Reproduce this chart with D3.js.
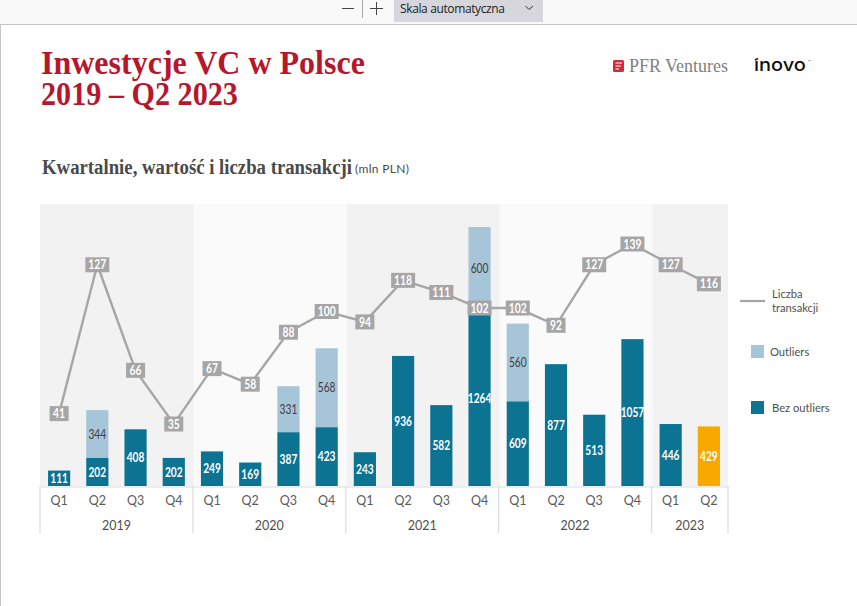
<!DOCTYPE html>
<html><head><meta charset="utf-8">
<script src="https://cdn.jsdelivr.net/npm/d3@7"></script>
<style>
html,body{margin:0;padding:0;background:#fff;overflow:hidden}
svg{display:block}
text{font-family:Lato,"Open Sans",sans-serif}
.serif{font-family:"Liberation Serif",serif}
</style></head><body>
<svg id="c" width="857" height="606"></svg>
<script>
const years = ["2019","2020","2021","2022","2023"];
const yearCounts = [4,4,4,4,2];
const quarters = ["Q1","Q2","Q3","Q4","Q1","Q2","Q3","Q4","Q1","Q2","Q3","Q4","Q1","Q2","Q3","Q4","Q1","Q2"];
const bezOutliers = [111,202,408,202,249,169,387,423,243,936,582,1264,609,877,513,1057,446,429];
const outliers = [0,344,0,0,0,0,331,568,0,0,0,600,560,0,0,0,0,0];
const transakcje = [41,127,66,35,67,58,88,100,94,118,111,102,102,92,127,139,127,116];
const highlighted = [17];

const svg = d3.select("#c");
const ids = quarters.map((q,i)=>i);
const x = d3.scaleBand().domain(ids).range([40,728]).paddingInner(0.42).paddingOuter(0.21);
const yBar = d3.scaleLinear().domain([0,1864]).range([486,227]);
const yLine = d3.scaleLinear().domain([35,139]).range([424,244]);
const cx = i => x(i)+x.bandwidth()/2;
const edge = i => 40 + (688/18)*i;

// squeeze a text horizontally to a given width, keeping its real box
function fit(sel, left, y, width){
  const n = sel.node().getComputedTextLength();
  sel.attr("x",0).attr("y",0).attr("transform",`translate(${left},${y}) scale(${width/n},1)`);
  return sel;
}
function digits(sel, perChar){
  sel.attr("textLength",function(){return this.textContent.length*perChar;}).attr("lengthAdjust","spacingAndGlyphs");
  return sel;
}

// browser toolbar
svg.append("rect").attr("x",0).attr("y",0).attr("width",857).attr("height",24).attr("fill","#f9f9f9");
svg.append("line").attr("x1",0).attr("x2",857).attr("y1",24.5).attr("y2",24.5).attr("stroke","#c4c4c4");
svg.append("line").attr("x1",0.5).attr("x2",0.5).attr("y1",25).attr("y2",606).attr("stroke","#c4c4c4");
svg.append("rect").attr("x",394).attr("y",0).attr("width",149).attr("height",22).attr("fill","#d6d6dc");
svg.append("line").attr("x1",342).attr("x2",354).attr("y1",8.5).attr("y2",8.5).attr("stroke","#444");
svg.append("line").attr("x1",362.5).attr("x2",362.5).attr("y1",0).attr("y2",18).attr("stroke","#aaa");
svg.append("path").attr("d","M370 8.5H383M376.5 2V15").attr("stroke","#444").attr("fill","none");
svg.append("text").attr("x",400).attr("y",13).attr("font-size",12).attr("fill","#222").style("font-family","'Open Sans'").attr("textLength",105).text("Skala automatyczna");
svg.append("path").attr("d","M525.5 6L529 9.5L533 6").attr("stroke","#333").attr("fill","none");

// titles
const title = s => svg.append("text").attr("class","serif").attr("fill","#b5182d").attr("font-weight",700).attr("font-size",33).text(s);
fit(title("Inwestycje VC w Polsce"),41,74,324);
fit(title("2019 – Q2 2023"),41,105,197);
fit(svg.append("text").attr("class","serif").attr("font-size",21).attr("font-weight",700).attr("fill","#4a4a4a").text("Kwartalnie, wartość i liczba transakcji"),42,174,310);
svg.append("text").attr("x",355).attr("y",173).attr("font-size",12).attr("fill","#4a4a4a").attr("textLength",54).text("(mln PLN)");

// logos
svg.append("rect").attr("x",613).attr("y",60).attr("width",11).attr("height",12).attr("rx",1.5).attr("fill","#d0283e");
svg.append("path").attr("d","M615.5 63H622M615.5 66H621M615.5 69H619").attr("stroke","#fff").attr("stroke-width",1);
fit(svg.append("text").attr("class","serif").attr("font-size",19).attr("fill","#808080").text("PFR Ventures"),629,72,99);
fit(svg.append("text").attr("font-size",18).attr("font-weight",500).attr("fill","#111").style("font-family","Inter").text("ınovo"),754,71,52);
svg.append("path").attr("d","M755 60L758 58.5").attr("stroke","#111").attr("stroke-width",1.5);
svg.append("text").attr("x",808).attr("y",63).attr("font-size",4).attr("fill","#444").text("™");

// year bands
let start = 0;
const spans = years.map((y,i)=>{const s={y,a:start,b:start+yearCounts[i],i};start+=yearCounts[i];return s;});
const bandLeft = d => edge(d.a)+(d.i?1:0);
svg.append("g").selectAll("rect").data(spans).join("rect")
  .attr("x",bandLeft).attr("width",d=>(d.b===18?edge(18):bandLeft({a:d.b,i:1}))-bandLeft(d)).attr("y",204).attr("height",282)
  .attr("fill",d=>d.i%2?"#fafafa":"#f2f2f2");

// bars
const bars = svg.append("g");
bars.selectAll("rect.o").data(ids.filter(i=>outliers[i]>0)).join("rect").attr("class","o")
  .attr("x",i=>x(i)).attr("width",x.bandwidth())
  .attr("y",i=>yBar(bezOutliers[i]+outliers[i])).attr("height",i=>yBar(bezOutliers[i])-yBar(bezOutliers[i]+outliers[i]))
  .attr("fill","#a6c5d8");
bars.selectAll("rect.b").data(ids).join("rect").attr("class","b")
  .attr("x",i=>x(i)).attr("width",x.bandwidth())
  .attr("y",i=>yBar(bezOutliers[i])).attr("height",i=>yBar(0)-yBar(bezOutliers[i]))
  .attr("fill",i=>highlighted.includes(i)?"#f9a800":"#0d7392");

// bar labels
digits(svg.append("g").selectAll("text").data(ids).join("text")
  .attr("x",cx).attr("y",i=>yBar(bezOutliers[i]/2)).attr("dy","0.36em").attr("text-anchor","middle")
  .attr("font-size",13).attr("font-weight",700).attr("fill","#fff").text(i=>bezOutliers[i]),5.9);
digits(svg.append("g").selectAll("text").data(ids.filter(i=>outliers[i]>0)).join("text")
  .attr("x",cx).attr("y",i=>yBar(bezOutliers[i]+outliers[i]/2)).attr("dy","0.36em").attr("text-anchor","middle")
  .attr("font-size",13).attr("fill","#404040").text(i=>outliers[i]),5.9);

// line
svg.append("path").datum(ids).attr("fill","none").attr("stroke","#a6a6a6").attr("stroke-width",2.4)
  .attr("d",d3.line().x(cx).y(i=>yLine(transakcje[i])));
const pts = svg.append("g").selectAll("g").data(ids).join("g").attr("transform",i=>`translate(${cx(i)},${yLine(transakcje[i])})`);
pts.append("rect").attr("x",d=>-(String(transakcje[d]).length>2?12:9.5)).attr("width",d=>String(transakcje[d]).length>2?24:19).attr("y",-7.5).attr("height",15).attr("fill","#a6a6a6");
digits(pts.append("text").attr("text-anchor","middle").attr("dy","0.36em").attr("font-size",13).attr("font-weight",700).attr("fill","#fff").text(i=>transakcje[i]),6);

// axis
const axis = d3.axisBottom(x).tickSize(0).tickPadding(10).tickFormat(i=>quarters[i]);
const ag = svg.append("g").attr("transform","translate(0,486.5)").call(axis);
ag.select(".domain").attr("stroke","#dcdcdc").attr("stroke-width",1.2);
ag.selectAll("text").attr("font-size",12.5).attr("fill","#5a5a5a").style("font-family","Lato");
svg.append("g").selectAll("line").data([0,4,8,12,16,18]).join("line")
  .attr("x1",edge).attr("x2",edge).attr("y1",486).attr("y2",533).attr("stroke","#dcdcdc").attr("stroke-width",1.2);
svg.append("g").selectAll("text").data(spans).join("text")
  .attr("x",d=>(edge(d.a)+edge(d.b))/2).attr("y",530).attr("text-anchor","middle").attr("font-size",12.5).attr("fill","#4f4f4f").text(d=>d.y);

// legend
const lg = svg.append("g");
lg.append("line").attr("x1",740).attr("x2",765).attr("y1",301).attr("y2",301).attr("stroke","#a6a6a6").attr("stroke-width",2.2);
lg.append("text").attr("x",772).attr("y",298).attr("font-size",11.2).attr("fill","#4f4f4f").text("Liczba");
lg.append("text").attr("x",772).attr("y",312).attr("font-size",11.2).attr("fill","#4f4f4f").text("transakcji");
lg.append("rect").attr("x",751).attr("y",345).attr("width",13).attr("height",13).attr("fill","#a6c5d8");
lg.append("text").attr("x",770).attr("y",356).attr("font-size",11.2).attr("fill","#4f4f4f").text("Outliers");
lg.append("rect").attr("x",751).attr("y",401).attr("width",13).attr("height",13).attr("fill","#0d7392");
lg.append("text").attr("x",772).attr("y",412).attr("font-size",11.2).attr("fill","#4f4f4f").text("Bez outliers");
</script>
</body></html>
